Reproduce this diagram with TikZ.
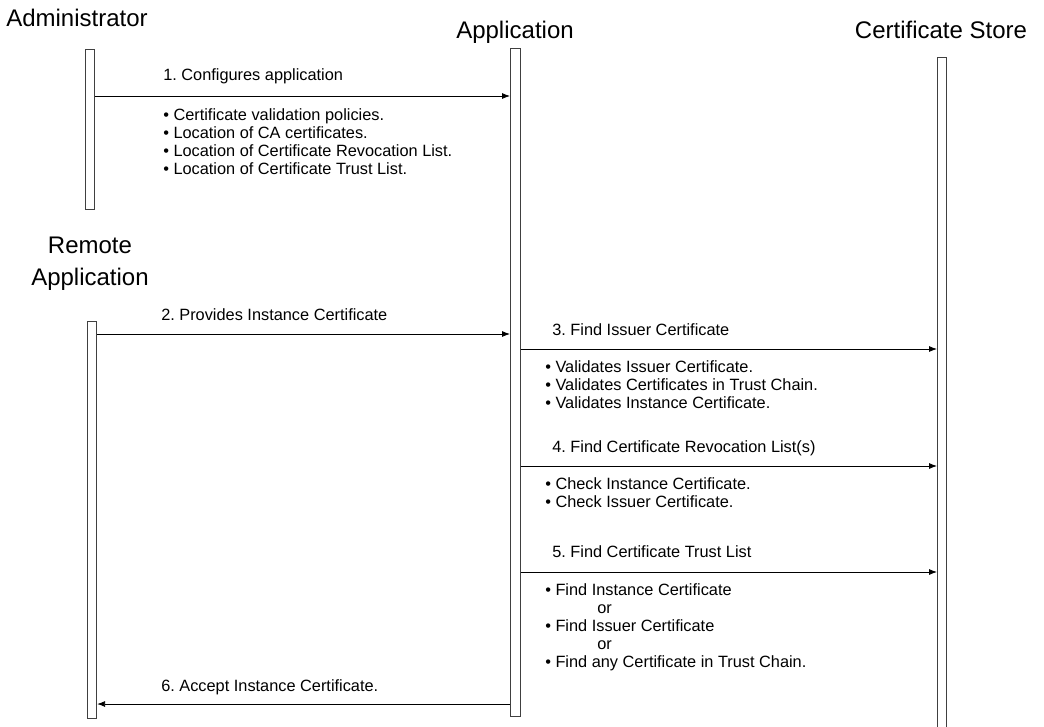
\documentclass[tikz,border=0pt]{standalone}
\usepackage{fontspec}
\setmainfont{Liberation Sans}
\usetikzlibrary{arrows.meta}
\usetikzlibrary{positioning}

\tikzset{
  lifebar/.style={draw=black!75, fill=white, line width=0.6pt, minimum width=7pt, inner sep=0pt, anchor=north west},
  msg/.style={-{Latex[length=6pt,width=4.5pt]}, line width=0.6pt},
  actor/.style={font=\fontsize{18}{24}\selectfont, align=center, inner sep=0pt, anchor=base},
  lbl/.style={font=\fontsize{12.25}{13.5}\selectfont, anchor=base west, inner sep=0pt},
  note/.style={font=\fontsize{12.25}{13.5}\selectfont, align=left, anchor=north west, inner sep=0pt},
}

\begin{document}
\frenchspacing
\begin{tikzpicture}[x=0.75pt, y=-0.75pt]
    \useasboundingbox (0,0) rectangle (1044,726);

    \node[actor] (tadmin) at (77,26.5) {Administrator};
    \node[actor] (tapp) at (515,38.5) {Application};
    \node[actor] (tstore) at (941,38.5) {Certificate Store};
    \node[actor, anchor=north] (tremote) at (90,236.5) {Remote\\Application};

    \node[lifebar, minimum height=120pt] (admin) at (85,49) {};
    \node[lifebar, minimum width=7.5pt, minimum height=501pt] (app) at (510,48) {};
    \node[lifebar, minimum height=504pt] (store) at (937,57) {};
    \node[lifebar, minimum height=297.75pt] (remote) at (87,321) {};

    \coordinate (m1) at (0,96);
    \coordinate (m2) at (0,334);
    \coordinate (m3) at (0,349);
    \coordinate (m4) at (0,466);
    \coordinate (m5) at (0,572);
    \coordinate (m6) at (0,704);

    \draw[msg] (admin.east |- m1) -- (app.west |- m1);
    \draw[msg] (remote.east |- m2) -- (app.west |- m2);
    \draw[msg] (app.east |- m3) -- (store.west |- m3);
    \draw[msg] (app.east |- m4) -- (store.west |- m4);
    \draw[msg] (app.east |- m5) -- (store.west |- m5);
    \draw[msg] (app.west |- m6) -- (remote.east |- m6);

    \node[lbl] (l1) at (163,80.5) {1. Configures application};
    \node[lbl] (l2) at (161,320.5) {2. Provides Instance Certificate};
    \node[lbl] (l3) at (552,335.5) {3. Find Issuer Certificate};
    \node[lbl] (l4) at (552,452.5) {4. Find Certificate Revocation List(s)};
    \node[lbl] (l5) at (552,557.5) {5. Find Certificate Trust List};
    \node[lbl] (l6) at (161,691.5) {6. Accept Instance Certificate.};

    \node[note] (n1) at (163,108) {\textbullet\ Certificate validation policies.\\
        \textbullet\ Location of CA certificates.\\
        \textbullet\ Location of Certificate Revocation List.\\
        \textbullet\ Location of Certificate Trust List.};
    \node[note] (n3) at (545,360) {\textbullet\ Validates Issuer Certificate.\\
        \textbullet\ Validates Certificates in Trust Chain.\\
        \textbullet\ Validates Instance Certificate.};
    \node[note] (n4) at (545,477) {\textbullet\ Check Instance Certificate.\\
        \textbullet\ Check Issuer Certificate.};
    \node[note] (n5) at (545,583) {\textbullet\ Find Instance Certificate\\
        \hspace*{39pt}or\\
        \textbullet\ Find Issuer Certificate\\
        \hspace*{39pt}or\\
        \textbullet\ Find any Certificate in Trust Chain.};
\end{tikzpicture}
\end{document}
